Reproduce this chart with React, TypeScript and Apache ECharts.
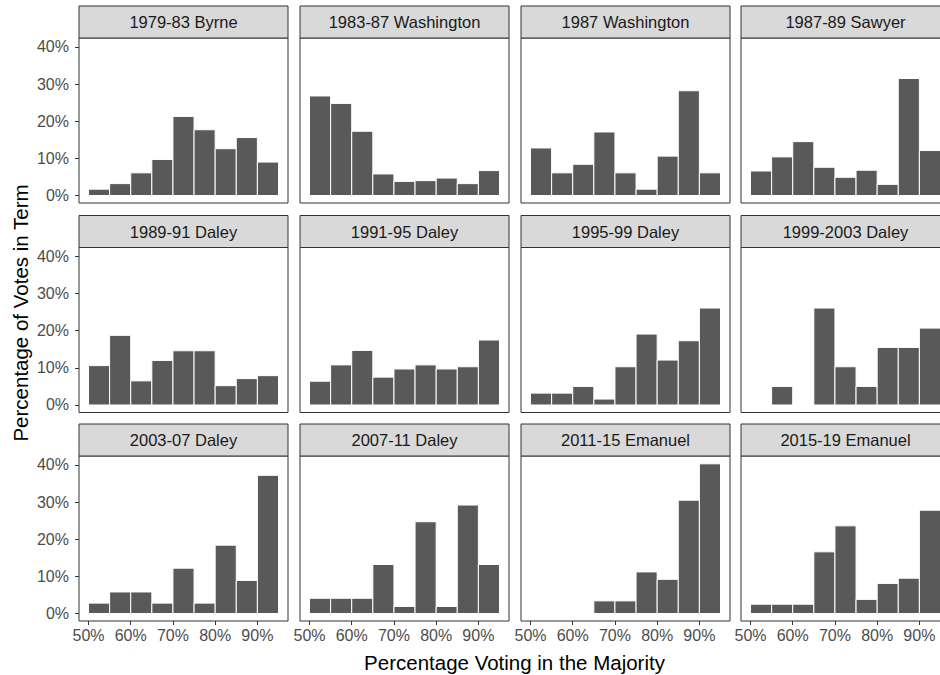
import React, { useEffect, useRef } from "react";
import * as echarts from "echarts";

// ---- data ----
const panelTitles = [
  "1979-83 Byrne", "1983-87 Washington", "1987 Washington", "1987-89 Sawyer",
  "1989-91 Daley", "1991-95 Daley", "1995-99 Daley", "1999-2003 Daley",
  "2003-07 Daley", "2007-11 Daley", "2011-15 Emanuel", "2015-19 Emanuel",
];
const binEdges = [50, 55, 60, 65, 70, 75, 80, 85, 90, 95];
const xTickValues = [50, 60, 70, 80, 90];
const yTickValues = [0, 10, 20, 30, 40];

const byrne7983 = [1.7, 3.2, 6.1, 9.7, 21.3, 17.7, 12.6, 15.6, 9.0];
const washington8387 = [26.8, 24.8, 17.3, 5.8, 3.8, 4.0, 4.7, 3.2, 6.7];
const washington87 = [12.8, 6.1, 8.4, 17.1, 6.1, 1.7, 10.6, 28.2, 6.1];
const sawyer8789 = [6.6, 10.4, 14.5, 7.6, 4.9, 6.8, 3.0, 31.5, 12.1];
const daley8991 = [10.6, 18.75, 6.5, 12.0, 14.6, 14.6, 5.2, 7.1, 7.9];
const daley9195 = [6.4, 10.8, 14.7, 7.5, 9.7, 10.8, 9.7, 10.3, 17.5];
const daley9599 = [3.2, 3.2, 5.0, 1.6, 10.3, 19.1, 12.1, 17.3, 26.1];
const daley9903 = [0, 5.0, 0, 26.1, 10.3, 5.0, 15.5, 15.5, 20.7];
const daley0307 = [2.8, 5.8, 5.8, 2.8, 12.2, 2.8, 18.4, 8.9, 37.2];
const daley0711 = [4.1, 4.1, 4.1, 13.2, 1.9, 24.7, 1.9, 29.2, 13.2];
const emanuel1115 = [0, 0, 0, 3.4, 3.4, 11.2, 9.2, 30.5, 40.3];
const emanuel1519 = [2.5, 2.5, 2.5, 16.6, 23.6, 3.8, 8.1, 9.5, 27.8];

const panelValues = [
  byrne7983, washington8387, washington87, sawyer8789,
  daley8991, daley9195, daley9599, daley9903,
  daley0307, daley0711, emanuel1115, emanuel1519,
];

// ---- layout ----
const colLefts = [79, 300, 521, 741];
const rowTops = [38, 247.5, 456];
const panelW = 209;
const panelH = 165;
const stripH = 32;
const X_MIN = 47.75, X_MAX = 97.25;
const Y_MIN = -2.02, Y_MAX = 42.4;

const FONT = "'Liberation Sans', Arial, Helvetica, sans-serif";

export default function App() {
  const ref = useRef<HTMLDivElement>(null);
  useEffect(() => {
    if (!ref.current) return;
    const chart = echarts.init(ref.current, null, { renderer: "svg" });
    const grids: any[] = [];
    const xAxes: any[] = [];
    const yAxes: any[] = [];
    const series: any[] = [];
    const graphics: any[] = [];

    panelValues.forEach((vals, i) => {
      const r = Math.floor(i / 4);
      const c = i % 4;
      const left = colLefts[c];
      const top = rowTops[r];
      grids.push({
        left, top, width: panelW, height: panelH,
        show: true, borderColor: "#333333", borderWidth: 1, backgroundColor: "#ffffff",
        containLabel: false,
        outerBoundsMode: "none",
      });
      const showX = r === 2;
      const showY = c === 0;
      xAxes.push({
        type: "value", gridIndex: i, min: X_MIN, max: X_MAX,
        position: "bottom",
        axisLine: { show: false, onZero: false },
        splitLine: { show: false },
        axisTick: {
          show: showX, customValues: xTickValues, length: 4,
          lineStyle: { color: "#333333", width: 1 },
        },
        axisLabel: {
          show: showX, customValues: xTickValues, margin: 6,
          color: "#4D4D4D", fontSize: 16, fontFamily: FONT,
          formatter: (v: number) => `${v}%`,
        },
      });
      yAxes.push({
        type: "value", gridIndex: i, min: Y_MIN, max: Y_MAX,
        position: "left",
        axisLine: { show: false, onZero: false },
        splitLine: { show: false },
        axisTick: {
          show: showY, customValues: yTickValues, length: 4,
          lineStyle: { color: "#333333", width: 1 },
        },
        axisLabel: {
          show: showY, customValues: yTickValues, margin: 10,
          color: "#4D4D4D", fontSize: 16, fontFamily: FONT,
          formatter: (v: number) => `${v}%`,
        },
      });
      const data = vals
        .map((v, k) => [binEdges[k], binEdges[k + 1], v])
        .filter((d) => d[2] > 0);
      series.push({
        type: "custom", xAxisIndex: i, yAxisIndex: i,
        encode: { x: [0, 1], y: 2 },
        data,
        renderItem: (params: any, api: any) => {
          const x0 = api.value(0), x1 = api.value(1), v = api.value(2);
          const p0 = api.coord([x0, v]);
          const p1 = api.coord([x1, 0]);
          return {
            type: "rect",
            shape: { x: p0[0], y: p0[1], width: p1[0] - p0[0], height: p1[1] - p0[1] },
            style: { fill: "#595959", stroke: "#ffffff", lineWidth: 1 },
          };
        },
      });
      graphics.push({
        type: "rect",
        shape: { x: left, y: top - stripH, width: panelW, height: stripH },
        style: { fill: "#D9D9D9", stroke: "#333333", lineWidth: 1 },
        z: 10,
      });
      graphics.push({
        type: "text",
        x: left + panelW / 2, y: top - stripH / 2,
        style: {
          text: panelTitles[i], fill: "#1A1A1A", fontSize: 16.5, fontFamily: FONT,
          align: "center", verticalAlign: "middle",
        },
        z: 11,
      });
    });

    graphics.push({
      type: "text", x: 514.5, y: 662,
      style: {
        text: "Percentage Voting in the Majority", fill: "#000000", fontSize: 20.5,
        fontFamily: FONT, align: "center", verticalAlign: "middle",
      },
    });
    graphics.push({
      type: "text", x: 20, y: 313, rotation: Math.PI / 2,
      style: {
        text: "Percentage of Votes in Term", fill: "#000000", fontSize: 20.5,
        fontFamily: FONT, align: "center", verticalAlign: "middle",
      },
    });

    chart.setOption({
      animation: false,
      backgroundColor: "#ffffff",
      grid: grids,
      xAxis: xAxes,
      yAxis: yAxes,
      series,
      graphic: graphics,
    });
    return () => chart.dispose();
  }, []);
  return (
    <div
      ref={ref}
      style={{ position: "fixed", left: 0, top: 0, width: 940, height: 675 }}
    />
  );
}
